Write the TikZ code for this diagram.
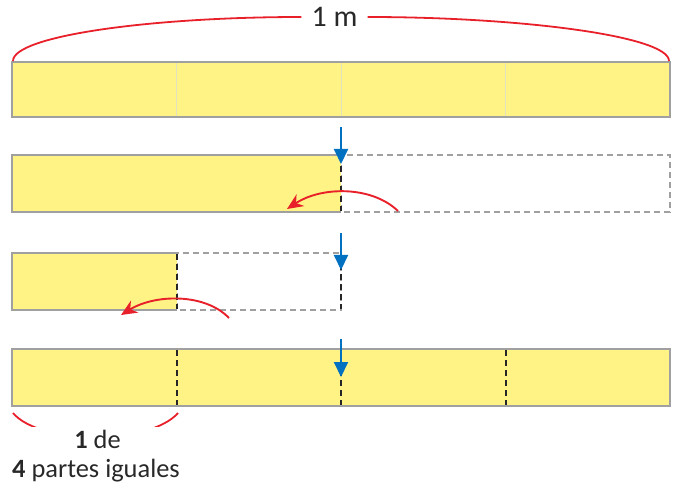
\documentclass[tikz,border=0pt]{standalone}
\usepackage{fontspec}
\setmainfont{Carlito}
\usetikzlibrary{arrows.meta}
\definecolor{baryellow}{RGB}{255,243,133}
\definecolor{bargray}{RGB}{160,160,160}
\definecolor{faintgray}{RGB}{228,225,190}
\definecolor{arcred}{RGB}{232,32,42}
\definecolor{arrowblue}{RGB}{0,112,192}
\definecolor{textdark}{RGB}{40,40,40}
\tikzset{
  fullbar/.style={fill=baryellow,draw=bargray,line width=2bp},
  emptybar/.style={draw=bargray,line width=1.6bp,dash pattern=on 6bp off 4bp},
  cutline/.style={draw=black!85,line width=1.8bp,dash pattern=on 6bp off 4bp},
  bluearrow/.style={draw=arrowblue,line width=2bp,-{Triangle[length=15bp,width=14bp]}},
  redarrow/.style={draw=arcred,line width=1.9bp,-{Stealth[length=16bp,width=14bp]}},
  redarc/.style={draw=arcred,line width=1.8bp},
  lbl/.style={inner sep=0pt,text=textdark}
}
\begin{document}
\begin{tikzpicture}[x=1bp,y=-1bp]
\useasboundingbox (0,0) rectangle (673,486);
% bar 1
\draw[fullbar] (12,62) rectangle (670,117);
\foreach \x in {176.5,341,505.5} \draw[faintgray,line width=1bp] (\x,63) -- (\x,116);
\node[lbl,inner xsep=10bp,font=\fontsize{30}{30}\selectfont] (onem) at (334.5,17) {1 m};
\draw[redarc] (13,61) .. controls (13,36) and (150,17) .. (onem.west);
\draw[redarc] (669,61) .. controls (669,36) and (520,17) .. (onem.east);
% bar 2
\draw[emptybar] (341,155) rectangle (670,212);
\fill[baryellow] (12,155) rectangle (341,212);
\draw[bargray,line width=2bp] (341,155) -- (12,155) -- (12,212) -- (341,212);
\draw[cutline] (341,156) -- (341,211);
\coordinate (b2top) at (341,127);
\coordinate (b2tip) at (341,164);
\draw[bluearrow] (b2top) -- (b2tip);
\coordinate (r2s) at (398,211);
\coordinate (r2e) at (287,209);
\draw[redarrow] (r2s) .. controls (372,186) and (322,186) .. (r2e);
% bar 3
\draw[emptybar] (177,253) rectangle (341,310);
\fill[baryellow] (12,253) rectangle (177,310);
\draw[bargray,line width=2bp] (177,253) -- (12,253) -- (12,310) -- (177,310);
\draw[cutline] (177,254) -- (177,309);
\draw[cutline] (341,254) -- (341,309);
\coordinate (b3top) at (341,233);
\coordinate (b3tip) at (341,270);
\draw[bluearrow] (b3top) -- (b3tip);
\coordinate (r3s) at (229,318);
\coordinate (r3e) at (121,315);
\draw[redarrow] (r3s) .. controls (205,293) and (155,294) .. (r3e);
% bar 4
\draw[fullbar] (12,349) rectangle (670,406);
\foreach \x in {177,341,506} \draw[cutline] (\x,350) -- (\x,405);
\coordinate (b4top) at (341,339);
\coordinate (b4tip) at (341,377);
\draw[bluearrow] (b4top) -- (b4tip);
% bottom brace
\begin{scope}
\clip (0,405) rectangle (673,426.5);
\draw[redarc] (13,413) .. controls (40,445) and (150,445) .. (178,413);
\end{scope}
\node[lbl,anchor=base,font=\fontsize{26.5}{26.5}\selectfont] (onede) at (97.5,448) {\textbf{1} de};
\node[lbl,anchor=base west,font=\fontsize{26.5}{26.5}\selectfont] (partes) at (12,477) {\textbf{4} partes iguales};
\end{tikzpicture}
\end{document}
